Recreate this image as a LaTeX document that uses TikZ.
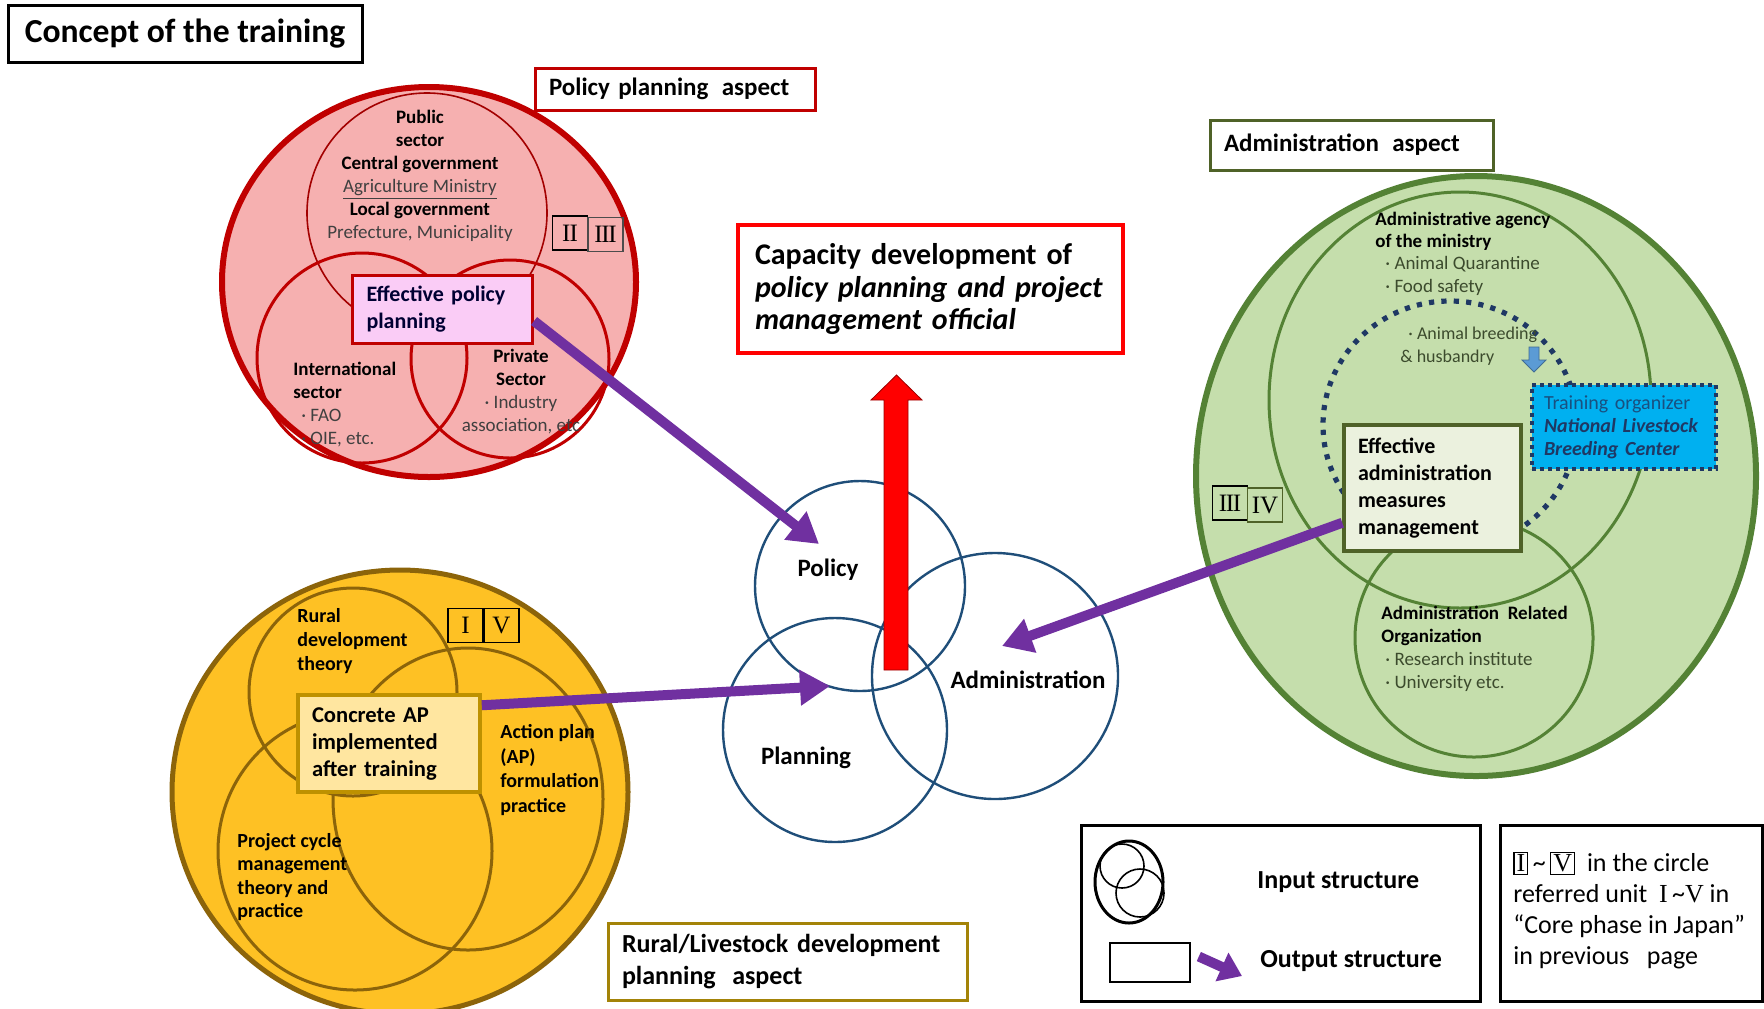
\documentclass[tikz,border=0pt]{standalone}
\usepackage{fontspec}
\setmainfont{Carlito}
\newfontfamily\romanfont{Liberation Serif}
\usetikzlibrary{arrows.meta,calc}
\definecolor{redline}{HTML}{C00000}
\definecolor{redfill}{RGB}{246,176,176}
\definecolor{pinkbox}{RGB}{250,204,246}
\definecolor{yelfill}{RGB}{254,193,36}
\definecolor{yelline}{RGB}{140,100,10}
\definecolor{yelbox}{RGB}{255,230,160}
\definecolor{yelboxline}{RGB}{190,145,0}
\definecolor{grnfill}{RGB}{197,222,172}
\definecolor{grnline}{RGB}{84,130,53}
\definecolor{grnbox}{RGB}{235,241,222}
\definecolor{grnboxline}{RGB}{79,98,40}
\definecolor{vennblue}{RGB}{31,78,121}
\definecolor{purp}{RGB}{112,48,160}
\definecolor{navy}{RGB}{31,56,100}
\definecolor{cyanbox}{RGB}{0,176,240}
\definecolor{lblue}{RGB}{91,155,213}
\definecolor{txtgray}{RGB}{64,64,64}
\definecolor{txtgreen}{RGB}{60,75,45}
\newcommand{\fsz}[2]{\fontsize{#1}{#2}\selectfont}
\newcommand{\rbox}[1]{{\setlength\fboxsep{1pt}\setlength\fboxrule{0.6pt}\fbox{\romanfont #1}}}
\newcommand{\rII}{I\kern-0.5pt I}
\newcommand{\rIII}{I\kern-0.7pt I\kern-0.7pt I}
\begin{document}
\begin{tikzpicture}[x=0.5pt,y=-0.5pt,
  txt/.style={inner sep=0pt},
  labelbox/.style={draw, fill=white, line width=1.5pt, inner xsep=7pt, inner ysep=0pt, align=left},
  romanbox/.style={draw, line width=0.8pt, minimum width=17.5pt, minimum height=17pt, inner sep=0pt, font=\romanfont\fsz{12.5}{13}},
  parrow/.style={draw=purp, line width=5pt, -{Triangle[length=15pt,width=17pt]}},
  venn/.style={draw=vennblue, line width=1.2pt},
  vlabel/.style={txt, font=\bfseries\fsz{12.5}{14}}
]
\useasboundingbox (0,0) rectangle (1764,1008);
\fill[white] (0,0) rectangle (1764,1008);

% ---------------- title
\node[labelbox, draw=black, minimum width=177pt, minimum height=28.5pt, align=center, font=\bfseries\fsz{16.8}{18}] (title) at (185,33.5) {Concept of the training};

% ---------------- red (policy planning) circle
\draw[redline, fill=redfill, line width=3pt] (429,282) circle [x radius=207, y radius=195];
\draw[redline!85!black, line width=0.8pt] (427,213) circle [radius=120];
\draw[redline, line width=1.5pt] (362,358) circle [radius=105];
\draw[redline, line width=1.5pt] (510,359) circle [radius=99];

\node[txt, align=center, font=\fsz{9.5}{11.5}] (pubsec) at (420,176)
 {\textbf{Public}\\ \textbf{sector}\\ \textbf{Central government}\\ \textcolor{txtgray}{\underline{Agriculture Ministry}}\\ \textbf{Local government}\\ \textcolor{txtgray}{Prefecture, Municipality}};
\node[txt, align=left, anchor=west, font=\fsz{9.5}{11.5}] (intsec) at (293,405)
 {\textbf{International}\\ \textbf{sector}\\ \textcolor{txtgray}{\hspace{4pt}· FAO}\\ \textcolor{txtgray}{\hspace{4pt}· OIE, etc.}};
\node[txt, align=center, font=\fsz{9.5}{11.5}] (privsec) at (521,392)
 {\textbf{Private}\\ \textbf{Sector}\\ \textcolor{txtgray}{· Industry}\\ \textcolor{txtgray}{association, etc}};
\node[romanbox] (r2) at (570,233) {\rII};
\node[romanbox, draw=black!70] (r3) at (605.5,234.5) {\rIII};

\node[draw=redline, fill=pinkbox, line width=1.5pt, text width=76pt, inner xsep=7pt, inner ysep=0pt, minimum height=34pt, align=left, text=black!60!blue!50!black, font=\bfseries\fsz{11}{13.5}] (epp) at (442.5,309) {Effective policy planning};

\node[labelbox, draw=redline, text width=126pt, minimum height=21pt, font=\bfseries\fsz{12.5}{14}] (ppa) at (675,89) {Policy planning\hspace{0.2em} aspect};

% ---------------- capacity box
\node[draw=red, line width=2pt, fill=white, text width=175.5pt, inner xsep=8.5pt, inner ysep=0pt, minimum height=64pt, align=left, font=\bfseries\fsz{15}{16.3}] (cap) at (930.5,289)
 {Capacity development of\\ \textit{policy planning and project}\\ \textit{management official}};

% ---------------- yellow (rural) circle
\draw[yelline, fill=yelfill, line width=2.5pt] (400,792) circle [x radius=228, y radius=222];
\draw[yelline, line width=1.5pt] (353,692) circle [radius=104];
\draw[yelline, line width=1.5pt] (468,799) circle [x radius=135, y radius=151];
\draw[yelline, line width=1.5pt] (355,851) circle [x radius=137, y radius=139];

\node[txt, align=left, anchor=west, font=\bfseries\fsz{10}{12}] (rural) at (297,641) {Rural\\ development\\ theory};
\node[txt, align=left, anchor=west, font=\bfseries\fsz{10}{12.3}] (apf) at (500,770) {Action plan\\ (AP)\\ formulation\\ practice};
\node[txt, align=left, anchor=west, font=\bfseries\fsz{10}{11.7}] (pcm) at (237,877) {Project cycle\\ management\\ theory and\\ practice};
\node[romanbox] (r1) at (465.5,625.5) {I};
\node[romanbox] (r5) at (501.5,625.5) {V};

\node[draw=yelboxline, fill=yelbox, line width=1.75pt, text width=77pt, inner xsep=7pt, inner ysep=0pt, minimum height=48.5pt, align=left, font=\bfseries\fsz{11.3}{13.5}] (capbox) at (389,743.5) {Concrete AP\\ implemented\\ after training};

\node[labelbox, draw=yelline!80!yellow, text width=165.5pt, minimum height=38.5pt, font=\bfseries\fsz{13}{16}] (rla) at (787.5,961.5) {Rural/Livestock development\\ planning\hspace{0.3em} aspect};

% ---------------- green (administration) circle
\draw[grnline, fill=grnfill, line width=3pt] (1476,476) circle [x radius=280, y radius=300];
\draw[grnline, line width=1.5pt] (1460,400) circle [x radius=191, y radius=208];
\draw[grnline, line width=1.5pt] (1474,638) circle [radius=119];
\draw[navy, line width=2.6pt, dash pattern=on 2.6pt off 3.6pt] (1450,425) circle [x radius=127, y radius=124];

\node[txt, align=left, anchor=west, font=\fsz{9.5}{11.2}] (agency) at (1375,253.5)
 {\textbf{Administrative agency}\\ \textbf{of the ministry}\\ \textcolor{txtgreen}{\hspace{5pt}· Animal Quarantine}\\ \textcolor{txtgreen}{\hspace{5pt}· Food safety}};
\node[txt, align=left, anchor=west, font=\fsz{9}{11.5}, text=txtgreen] (breed) at (1400,346)
 {\hspace{4pt}· Animal breeding\\ \& husbandry};
\node[txt, align=left, anchor=west, font=\fsz{9.5}{11.6}] (aro) at (1381,649)
 {\textbf{Administration\ \ Related}\\ \textbf{Organization}\\ \textcolor{txtgreen}{\hspace{2pt}· Research institute}\\ \textcolor{txtgreen}{\hspace{2pt}· University etc.}};

\fill[lblue, draw=lblue!70!black, line width=0.4pt] (1529,347) -- (1539,347) -- (1539,360) -- (1546,360) -- (1534,372) -- (1522,360) -- (1529,360) -- cycle;

\node[draw=navy, fill=cyanbox, line width=2pt, dash pattern=on 2pt off 2pt, text width=80pt, inner xsep=6pt, inner ysep=0pt, minimum height=42pt, align=left, font=\fsz{10}{11.5}] (org) at (1624,427)
 {\textcolor{navy!80!cyanbox}{Training organizer}\\ \textcolor{navy}{\textbf{\textit{National Livestock}}}\\ \textcolor{navy}{\textbf{\textit{Breeding Center}}}};

\node[draw=grnboxline, fill=grnbox, line width=1.75pt, text width=74.5pt, inner xsep=7pt, inner ysep=0pt, minimum height=63pt, align=left, font=\bfseries\fsz{11}{13.6}] (eam) at (1432.5,488)
 {Effective\\ administration\\ measures\\ management};
\node[romanbox] (r3b) at (1230,503) {\rIII};
\node[romanbox, draw=grnboxline] (r4) at (1265,505) {IV};

\node[labelbox, draw=grnboxline, text width=127.5pt, minimum height=25pt, font=\bfseries\fsz{12.5}{14}] (aa) at (1351.5,145) {Administration\hspace{0.2em} aspect};

% ---------------- central Venn
\draw[venn] (860,586) circle [radius=105];
\draw[venn] (835,730) circle [radius=112];
\draw[venn] (995,676) circle [radius=123];
\node[vlabel] (vpol) at (828,570) {Policy};
\node[vlabel] (vpla) at (806,758) {Planning};
\node[vlabel] (vadm) at (1028,680) {Administration};

\fill[red, draw=red!60!black, line width=0.4pt] (884,670) -- (884,400) -- (871,400) -- (896.5,375) -- (922,400) -- (908,400) -- (908,670) -- cycle;

\coordinate (tP) at (819,544);
\coordinate (tPl) at (830,686);
\coordinate (tA) at (1002,646);
\draw[parrow] ([yshift=-6pt]epp.east) -- (tP);
\draw[parrow] ([yshift=-6pt]capbox.north east) -- (tPl);
\draw[parrow] ([yshift=15pt]eam.south west) -- (tA);

% ---------------- legend
\node[draw=black, line width=1.5pt, minimum width=199.5pt, minimum height=88pt, inner sep=0pt] (leg1) at (1280.5,913) {};
\draw[black, line width=1.5pt] (1129,882) circle [x radius=34, y radius=41];
\draw[black, line width=0.8pt] (1122,866) circle [radius=22];
\draw[black, line width=0.8pt] (1140,893) circle [radius=24];
\node[draw=black, line width=0.8pt, minimum width=40pt, minimum height=19.5pt, inner sep=0pt] (legrect) at (1150,962.5) {};
\coordinate (legtip) at (1242,976);
\draw[purp, line width=5pt, -{Triangle[length=11pt,width=15pt]}] ([xshift=4pt,yshift=3pt]legrect.east) -- (legtip);
\node[txt, anchor=west, font=\bfseries\fsz{13}{15}] (lin) at (1257,882) {Input structure};
\node[txt, anchor=west, font=\bfseries\fsz{13}{15}] (lout) at (1260,961) {Output structure};

\node[draw=black, line width=1.5pt, minimum width=131pt, minimum height=88pt, inner sep=0pt] (leg2) at (1631,913) {};
\node[txt, anchor=west, align=left, font=\fsz{13}{15.5}] (legtxt) at (1513,910.5)
 {\rbox{I}\,\textasciitilde\,\rbox{V}\ \ in the circle\\ referred unit\ \ {\romanfont I}\,\textasciitilde{\romanfont V} in\\ “Core phase in Japan”\\ in previous\ \ \ page};
\end{tikzpicture}
\end{document}
